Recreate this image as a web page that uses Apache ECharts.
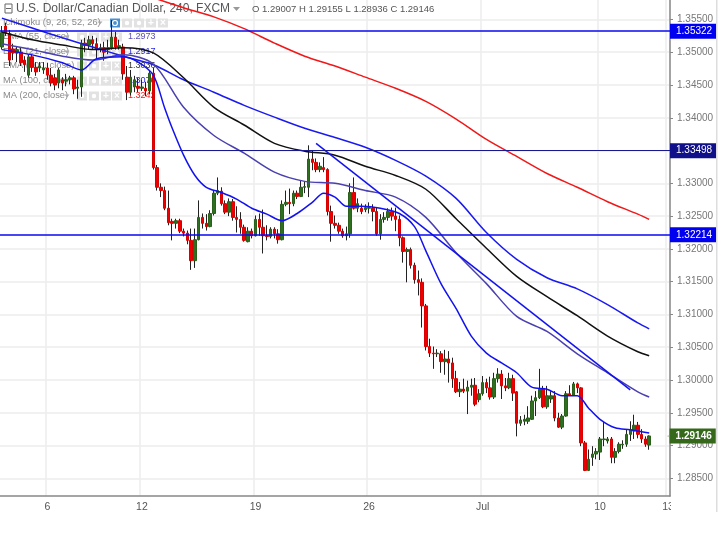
<!DOCTYPE html>
<html><head><meta charset="utf-8">
<style>html,body{margin:0;padding:0;background:#fff}#c{width:725px;height:543px}</style>
<script src="https://cdn.jsdelivr.net/npm/echarts@6/dist/echarts.min.js"></script>
</head><body><div id="c"></div>
<script>
const title = 'U.S. Dollar/Canadian Dollar, 240, FXCM';
const ohlcText = 'O 1.29007 H 1.29155 L 1.28936 C 1.29146';
const slotCount = 177;
const dateIdx = [12, 37, 67, 97, 127, 158, 176];
const dateLabels = ['6', '12', '19', '26', 'Jul', '10', '13'];
const priceTicks = [1.285,1.29,1.295,1.30,1.305,1.31,1.315,1.32,1.325,1.33,1.335,1.34,1.345,1.35,1.355];
const levels = [1.35322, 1.33498, 1.32214];
const lastPrice = 1.29146;
const legendRows = ['Ichimoku (9, 26, 52, 26)', 'EMA (55, close)', 'EMA (21, close)', 'EMA (100, close)', 'MA (100, close)', 'MA (200, close)'];
const legendValues = ['', '1.2973', '1.2917', '1.3036', '1.3076', '1.3242'];
const legendColors = ['', '#5b52b5', '#2a2ae0', '#333333', '#2a2ae0', '#f02020'];

const opens = [
1.3508,1.3540,1.3528,1.3505,1.3499,1.3500,1.3488,1.3465,1.3493,1.3477,
1.3476,1.3473,1.3476,1.3465,1.3461,1.3453,1.3458,1.3456,1.3458,1.3461,
1.3445,1.3447,1.3514,1.3511,1.3519,1.3513,1.3505,1.3507,1.3504,1.3507,
1.3523,1.3508,1.3508,1.3462,1.3439,1.3447,1.3448,1.3445,1.3445,1.3441,
1.3468,1.3324,1.3294,1.3289,1.3262,1.3242,1.3239,1.3243,1.3227,1.3224,
1.3213,1.3182,1.3214,1.3248,1.3239,1.3234,1.3254,1.3285,1.3288,1.3269,
1.3256,1.3272,1.3248,1.3245,1.3233,1.3211,1.3227,1.3220,1.3245,1.3233,
1.3220,1.3219,1.3230,1.3223,1.3214,1.3268,1.3271,1.3269,1.3285,1.3280,
1.3294,1.3294,1.3337,1.3332,1.3321,1.3324,1.3321,1.3257,1.3239,1.3236,
1.3227,1.3220,1.3223,1.3286,1.3262,1.3262,1.3260,1.3262,1.3262,1.3257,
1.3223,1.3245,1.3248,1.3257,1.3250,1.3245,1.3217,1.3196,1.3199,1.3175,
1.3153,1.3149,1.3113,1.3051,1.3041,1.3040,1.3040,1.3028,1.3032,1.3026,
1.3002,1.2982,1.2986,1.2983,1.2989,1.2992,1.2970,1.2979,1.2996,1.2988,
1.2974,1.3002,1.3009,1.2991,1.2988,1.3002,1.2982,1.2934,1.2937,1.2937,
1.2940,1.2968,1.2973,1.2986,1.2959,1.2971,1.2976,1.2942,1.2928,1.2945,
1.2979,1.2977,1.2994,1.2988,1.2904,1.2862,1.2882,1.2887,1.2890,1.2909,
1.2907,1.2910,1.2882,1.2891,1.2901,1.2902,1.2917,1.2922,1.2931,1.2917,
1.2910,1.29007];
const closes = [
1.3530,1.3530,1.3488,1.3499,1.3504,1.3484,1.3481,1.3493,1.3477,1.3470,
1.3479,1.3476,1.3465,1.3453,1.3450,1.3473,1.3453,1.3458,1.3461,1.3444,
1.3447,1.3514,1.3510,1.3519,1.3513,1.3505,1.3507,1.3500,1.3507,1.3523,
1.3508,1.3510,1.3467,1.3439,1.3462,1.3458,1.3445,1.3447,1.3441,1.3468,
1.3324,1.3294,1.3289,1.3262,1.3240,1.3239,1.3243,1.3227,1.3224,1.3213,
1.3182,1.3214,1.3248,1.3239,1.3234,1.3254,1.3285,1.3289,1.3269,1.3256,
1.3272,1.3248,1.3245,1.3233,1.3213,1.3227,1.3220,1.3245,1.3233,1.3220,
1.3219,1.3230,1.3223,1.3214,1.3268,1.3271,1.3269,1.3285,1.3280,1.3294,
1.3295,1.3337,1.3332,1.3321,1.3326,1.3321,1.3257,1.3239,1.3236,1.3227,
1.3220,1.3223,1.3286,1.3262,1.3269,1.3257,1.3263,1.3263,1.3257,1.3223,
1.3245,1.3248,1.3257,1.3250,1.3245,1.3217,1.3196,1.3199,1.3175,1.3153,
1.3149,1.3113,1.3051,1.3041,1.3040,1.3041,1.3028,1.3032,1.3026,1.3002,
1.2982,1.2986,1.2983,1.2989,1.2992,1.2963,1.2979,1.2996,1.2988,1.2974,
1.3002,1.3009,1.2991,1.2988,1.3002,1.2980,1.2934,1.2939,1.2940,1.2942,
1.2968,1.2973,1.2986,1.2959,1.2976,1.2976,1.2942,1.2928,1.2945,1.2979,
1.2977,1.2994,1.2988,1.2904,1.2862,1.2879,1.2887,1.2891,1.2910,1.2910,
1.2910,1.2882,1.2891,1.2902,1.2902,1.2917,1.2924,1.2931,1.2917,1.2910,
1.2902,1.29146];
const lows = [
1.3504,1.3525,1.3479,1.3488,1.3485,1.3479,1.3470,1.3461,1.3470,1.3464,
1.3470,1.3467,1.3458,1.3448,1.3442,1.3445,1.3442,1.3448,1.3451,1.3436,
1.3429,1.3432,1.3500,1.3504,1.3504,1.3491,1.3500,1.3487,1.3497,1.3504,
1.3504,1.3504,1.3458,1.3427,1.3434,1.3439,1.3439,1.3441,1.3433,1.3436,
1.3321,1.3289,1.3279,1.3259,1.3236,1.3213,1.3231,1.3224,1.3219,1.3207,
1.3168,1.3171,1.3213,1.3231,1.3228,1.3233,1.3251,1.3282,1.3266,1.3253,
1.3250,1.3243,1.3225,1.3223,1.3211,1.3210,1.3216,1.3219,1.3220,1.3193,
1.3213,1.3216,1.3216,1.3208,1.3213,1.3265,1.3253,1.3265,1.3276,1.3279,
1.3285,1.3279,1.3320,1.3317,1.3317,1.3317,1.3251,1.3211,1.3231,1.3223,
1.3217,1.3213,1.3217,1.3260,1.3256,1.3253,1.3256,1.3254,1.3242,1.3220,
1.3214,1.3240,1.3243,1.3243,1.3227,1.3204,1.3179,1.3149,1.3170,1.3147,
1.3129,1.3080,1.3045,1.3035,1.3017,1.3035,1.3011,1.3008,1.2996,1.2988,
1.2980,1.2974,1.2980,1.2948,1.2976,1.2960,1.2966,1.2976,1.2980,1.2970,
1.2971,1.2996,1.2971,1.2983,1.2986,1.2968,1.2914,1.2930,1.2931,1.2933,
1.2939,1.2945,1.2971,1.2957,1.2956,1.2965,1.2937,1.2927,1.2925,1.2944,
1.2976,1.2976,1.2980,1.2899,1.2861,1.2861,1.2869,1.2879,1.2878,1.2899,
1.2903,1.2873,1.2873,1.2888,1.2895,1.2898,1.2907,1.2910,1.2911,1.2904,
1.2898,1.28936];
const highs = [
1.3540,1.3545,1.3534,1.3513,1.3508,1.3508,1.3494,1.3497,1.3497,1.3485,
1.3485,1.3485,1.3484,1.3476,1.3467,1.3476,1.3462,1.3467,1.3464,1.3464,
1.3458,1.3519,1.3522,1.3525,1.3525,1.3522,1.3513,1.3516,1.3519,1.3549,
1.3531,1.3519,1.3513,1.3479,1.3473,1.3464,1.3461,1.3458,1.3455,1.3473,
1.3476,1.3328,1.3300,1.3295,1.3289,1.3246,1.3246,1.3246,1.3231,1.3228,
1.3231,1.3231,1.3274,1.3254,1.3253,1.3259,1.3289,1.3309,1.3294,1.3274,
1.3277,1.3276,1.3265,1.3256,1.3237,1.3233,1.3231,1.3251,1.3254,1.3260,
1.3236,1.3233,1.3233,1.3230,1.3274,1.3289,1.3292,1.3289,1.3289,1.3305,
1.3303,1.3358,1.3350,1.3338,1.3332,1.3340,1.3323,1.3266,1.3251,1.3240,
1.3231,1.3234,1.3300,1.3309,1.3277,1.3269,1.3268,1.3271,1.3268,1.3263,
1.3253,1.3256,1.3262,1.3263,1.3263,1.3251,1.3219,1.3202,1.3202,1.3179,
1.3167,1.3155,1.3116,1.3063,1.3051,1.3047,1.3044,1.3046,1.3044,1.3034,
1.3014,1.2997,1.3002,1.2999,1.3002,1.3003,1.2986,1.3006,1.3002,1.3005,
1.3011,1.3018,1.3015,1.3003,1.3011,1.3008,1.2983,1.2945,1.2947,1.2960,
1.2976,1.2983,1.3017,1.2991,1.2991,1.2983,1.2983,1.2950,1.2948,1.2983,
1.2992,1.2997,1.2996,1.2989,1.2907,1.2894,1.2899,1.2896,1.2913,1.2936,
1.2913,1.2913,1.2896,1.2905,1.2908,1.2924,1.2937,1.2947,1.2936,1.2925,
1.2914,1.29155];

const slowIdx = [0,8,16,24,32,40,48,56,64,72,80,88,96,104,112,120,128,136,144,152,160,168,171];
const ma100 = [1.3552,1.3537,1.3522,1.3508,1.3494,1.3481,1.3458,1.3439,1.3419,1.3401,1.3384,1.3370,1.3355,1.3335,1.3311,1.3277,1.3225,1.3184,1.3156,1.3139,1.3115,1.3087,1.3078];
const ema100 = [1.3531,1.3519,1.3511,1.3504,1.3507,1.3499,1.3461,1.3416,1.3389,1.3361,1.3349,1.3343,1.3326,1.3312,1.3291,1.3246,1.3201,1.3158,1.3127,1.3098,1.3067,1.3043,1.3037];
const ema55 = [1.3513,1.3504,1.3494,1.3488,1.3496,1.3482,1.3416,1.3373,1.3346,1.3317,1.3303,1.3300,1.3289,1.3279,1.3248,1.3194,1.3147,1.3097,1.3074,1.3040,1.3011,1.2982,1.2974];
const ma200Idx = [40,48,56,64,72,80,88,96,104,112,120,128,136,144,152,160,168,171];
const ma200 = [1.3583,1.3568,1.3554,1.3536,1.3514,1.3494,1.3479,1.3462,1.3445,1.3425,1.3398,1.3367,1.3341,1.3315,1.3294,1.3272,1.3253,1.3245];
const ema21Idx = [0,8,16,21,25,32,36,40,43,45,48,51,54,58,62,66,70,74,78,82,85,88,91,95,100,105,109,112,116,120,124,128,132,136,140,144,148,152,155,158,162,166,171];
const ema21 = [1.3504,1.3496,1.3484,1.3473,1.3490,1.3493,1.3485,1.3465,1.3415,1.3384,1.3343,1.3312,1.3294,1.3286,1.3276,1.3262,1.3253,1.3243,1.3254,1.3271,1.3285,1.3279,1.3265,1.3265,1.3262,1.3254,1.3234,1.3197,1.3147,1.3109,1.3067,1.3041,1.3026,1.3011,1.2989,1.2986,1.2976,1.2976,1.2957,1.2940,1.2927,1.2924,1.2919];
const trendIdx = [83, 166];
const trendLine = [1.3361, 1.2985];

const categories = Array.from({length: slotCount}, (_, i) => {
  const p = dateIdx.indexOf(i); return p >= 0 ? dateLabels[p] : '';
});
const hasLabel = (i, v) => v !== '';
const pairs = (idx, vals) => idx.map((k, i) => [k, vals[i]]);
const wicks = opens.map((o, i) => [o, closes[i], lows[i], highs[i]]);
const bodies = opens.map((o, i) => [o, closes[i], Math.min(o, closes[i]), Math.max(o, closes[i])]);

const lineSeries = (data, color, width, z) => ({
  type: 'line', data, symbol: 'none', smooth: 0.3, z: z || 4, silent: true,
  lineStyle: {color, width}
});

const FF = '"Liberation Sans", Arial, sans-serif';
const gfx = [];
gfx.push({type:'text', left:16, top:3, z:1, style:{text:title, fill:'#555', font:'12px '+FF}});
gfx.push({type:'rect', shape:{x:5,y:4,width:7,height:9}, z:1, style:{fill:'none', stroke:'#666', lineWidth:1}});
gfx.push({type:'line', shape:{x1:6,y1:8.5,x2:11,y2:8.5}, z:1, style:{stroke:'#666', lineWidth:1}});
gfx.push({type:'polygon', shape:{points:[[233,7],[240,7],[236.5,11]]}, z:1, style:{fill:'#999'}});
gfx.push({type:'text', left:252, top:4, z:1, style:{text:ohlcText, fill:'#555', font:'9.5px '+FF}});
const rowY = [23, 37, 52, 66, 81, 96];
legendRows.forEach((t, r) => {
  const y = rowY[r];
  gfx.push({type:'text', left:3, top:y-5, z:1, style:{text:t, fill:'#8a8a8a', font:'9.3px '+FF}});
  const ax = r === 0 ? 100 : 67;
  gfx.push({type:'polygon', shape:{points:[[ax-2.5,y-1.5],[ax+2.5,y-1.5],[ax,y+1.5]]}, z:1, style:{fill:'#aaa'}});
  const xs = r === 0 ? [110,122,134,146,158] : [77,89,101,112];
  xs.forEach((x, j) => {
    gfx.push({type:'rect', shape:{x, y:y-4.5, width:10, height:9}, z:1,
      style:{fill: (r===0 && j===0) ? '#4a90d0' : '#e2e2e2'}});
    const n = xs.length - j;
    if (r === 0 && j === 0) {
      gfx.push({type:'circle', shape:{cx:x+5, cy:y, r:2.5}, z:1, style:{fill:'none', stroke:'#fff', lineWidth:1.2}});
    } else if (n <= 2) {
      gfx.push({type:'text', x:x+5, y:y, z:1, style:{text:n===2?'+':'\u00D7', fill:'#fff', font:'bold 10px '+FF, align:'center', verticalAlign:'middle'}});
    } else {
      gfx.push({type:'circle', shape:{cx:x+5, cy:y, r:2.2}, z:1, style:{fill:'#fff'}});
    }
  });
  if (legendValues[r]) gfx.push({type:'text', left:128, top:y-5, z:1, style:{text:legendValues[r], fill:legendColors[r], font:'9px '+FF}});
});
gfx.push({type:'rect', shape:{x:671,y:498,width:45,height:16}, z:100, style:{fill:'#fff'}});
gfx.push({type:'rect', shape:{x:716,y:0,width:1.5,height:512}, z:100, style:{fill:'#dddddd'}});

const tagLabel = (text, bg) => ({show:true, formatter:text, color:'#fff', fontFamily:FF, fontSize:10,
  backgroundColor:bg, padding:[2.5,4,2.5,6], lineHeight:10});
const tag = (value, bg, lineColor, width) => ({
  yAxis: value,
  lineStyle: {color: lineColor, width, type:'solid'},
  label: Object.assign(tagLabel(value.toFixed(5), bg), {position:'end', distance:0})
});

const chart = echarts.init(document.getElementById('c'), null, {renderer:'canvas'});
chart.setOption({
  animation:false,
  backgroundColor:'#fff',
  textStyle:{fontFamily:FF},
  grid:{left:0, top:0, width:670, height:496},
  graphic:{elements:gfx},
  xAxis:{type:'category', data:categories, boundaryGap:true,
    axisLine:{lineStyle:{color:'#888', width:1.5}},
    axisTick:{alignWithLabel:true, length:3, interval:hasLabel, lineStyle:{color:'#888'}},
    axisLabel:{interval:hasLabel, color:'#555', fontSize:10.5, margin:6, hideOverlap:false},
    splitLine:{show:true, interval:hasLabel, lineStyle:{color:'#ececec', width:1.5}}},
  yAxis:{type:'value', position:'right', min:1.2823, max:1.35797, scale:true,
    axisLine:{show:true, lineStyle:{color:'#888', width:1.5}},
    axisTick:{show:true, length:3, customValues:priceTicks, lineStyle:{color:'#888'}},
    axisLabel:{customValues:priceTicks, color:'#777', fontSize:10, margin:7, formatter:v=>v.toFixed(5)},
    splitLine:{show:true, lineStyle:{color:'#ececec', width:1.5}}},
  series:[
    lineSeries(pairs(slowIdx, ma100), '#1a1af0', 1.5),
    lineSeries(pairs(slowIdx, ema100), '#111', 1.5),
    lineSeries(pairs(slowIdx, ema55), '#4a40b0', 1.5),
    lineSeries(pairs(ma200Idx, ma200), '#f01818', 1.5),
    {type:'candlestick', data:wicks, barWidth:1, z:3, silent:true,
     itemStyle:{color:'#222', color0:'#222', borderColor:'#222', borderColor0:'#222', borderWidth:1},
     markLine:{silent:true, symbol:'none', animation:false, precision:5, z:6,
       data:[tag(levels[0],'#0000f0','#0808f0',1.5), tag(levels[1],'#10108a','#181890',1), tag(levels[2],'#0000f0','#0808f0',1.5)]}},
    {type:'candlestick', data:bodies, barWidth:3, z:3, silent:true,
     itemStyle:{color:'#2f6f20', color0:'#ee0000', borderColor:'#2a5f1c', borderColor0:'#d80000', borderWidth:1}},
    lineSeries(pairs(ema21Idx, ema21), '#1212f0', 1.5, 5),
    {type:'line', data:pairs(trendIdx, trendLine), symbol:'none', z:5, silent:true, lineStyle:{color:'#1212f0', width:1.5}},
    {type:'scatter', data:[[176, lastPrice]], symbolSize:1, z:6, silent:true, itemStyle:{color:'#35681a', opacity:1},
     label:Object.assign(tagLabel(lastPrice.toFixed(5), '#35681a'), {position:'right', distance:1, fontWeight:'bold', opacity:1})}
  ]
});
</script></body></html>
